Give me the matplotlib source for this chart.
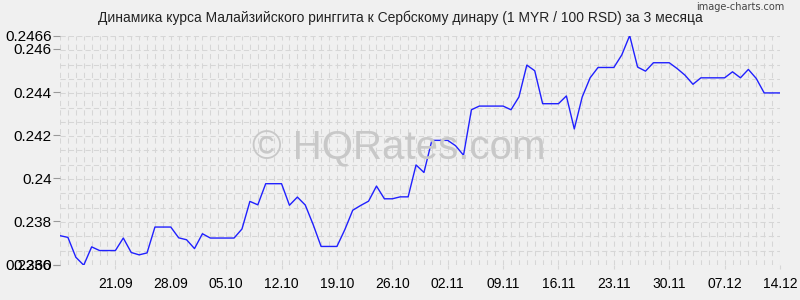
import matplotlib
matplotlib.use("Agg")
import matplotlib.pyplot as plt
import numpy as np

plt.rcParams['font.family'] = ['Liberation Sans', 'DejaVu Sans']

title = "Динамика курса Малайзийского ринггита к Сербскому динару (1 MYR / 100 RSD) за 3 месяца"

values = [
    0.23734, 0.23726, 0.23634, 0.23597, 0.23682, 0.23665, 0.23665, 0.23665,
    0.23723, 0.23656, 0.23645, 0.23654, 0.23774, 0.23774, 0.23774, 0.23724,
    0.23715, 0.23674, 0.23743, 0.23723, 0.23723, 0.23723, 0.23723, 0.23765,
    0.23893, 0.23877, 0.23975, 0.23975, 0.23975, 0.23875, 0.23913, 0.23876,
    0.23785, 0.23684, 0.23684, 0.23684, 0.23762, 0.23852, 0.23874, 0.23894,
    0.23964, 0.23905, 0.23905, 0.23914, 0.23914, 0.24062, 0.24027, 0.24176,
    0.24176, 0.24176, 0.24151, 0.24107, 0.24318, 0.24335, 0.24335, 0.24335,
    0.24335, 0.24318, 0.24377, 0.24525, 0.24499, 0.24346, 0.24346, 0.24346,
    0.24382, 0.24229, 0.24377, 0.24466, 0.24514, 0.24514, 0.24514, 0.24572,
    0.24662, 0.24516, 0.24497, 0.24536, 0.24536, 0.24536, 0.24509, 0.24478,
    0.24436, 0.24466, 0.24466, 0.24466, 0.24466, 0.24494, 0.24466, 0.24505,
    0.24463, 0.24396, 0.24396, 0.24396,
]
x_labels = ["21.09", "28.09", "05.10", "12.10", "19.10", "26.10", "02.11",
            "09.11", "16.11", "23.11", "30.11", "07.12", "14.12"]
x_label_pos = [7, 14, 21, 28, 35, 42, 49, 56, 63, 70, 77, 84, 91]
y_ticks = [0.2466, 0.246, 0.244, 0.242, 0.24, 0.238, 0.236, 0.23598]
y_tick_labels = ["0.2466", "0.246", "0.244", "0.242", "0.24", "0.238", "0.236", "0.2360"]

ymin, ymax = 0.23598, 0.2466
n = len(values)
bg = "#f0f0f0"

fig = plt.figure(figsize=(8, 3), dpi=100, facecolor=bg)
ax = fig.add_axes([0.075, 0.1167, 0.9, 0.7633], facecolor=bg)
ax.set_xlim(0, n - 1)
ax.set_ylim(ymin, ymax)

# grid
for i in range(n):
    ax.axvline(i, color="#d6d6d6", lw=0.75, ls=(0, (5, 4)), zorder=1)
for k in range(17):
    ax.axhline(ymin + k * (ymax - ymin) / 16, color="#d6d6d6", lw=0.75, ls=(0, (5, 3)), zorder=1)

ax.plot(range(n), values, color="#2020ff", lw=1.0, zorder=3)

for s in ax.spines.values():
    s.set_visible(False)

ax.set_yticks(y_ticks)
ax.set_yticklabels(y_tick_labels, fontsize=11)
ax.set_xticks(x_label_pos)
ax.set_xticklabels(x_labels, fontsize=10)
ax.tick_params(axis='y', length=5, color="#999999", pad=1)
ax.tick_params(axis='x', length=3, color="#d6d6d6", pad=6)

fig.text(0.5, 0.94, title, ha="center", va="center", fontsize=10, color="#222222")
fig.text(0.925, 0.975, "image-charts.com", ha="center", va="center", fontsize=7, color="#444444",
         family=["DejaVu Sans"])
fig.text(0.499, 0.505, "© HQRates.com", ha="center", va="center", fontsize=29,
         color="#c8c8c8", zorder=0)

fig.savefig("out.png", dpi=100, facecolor=bg)
